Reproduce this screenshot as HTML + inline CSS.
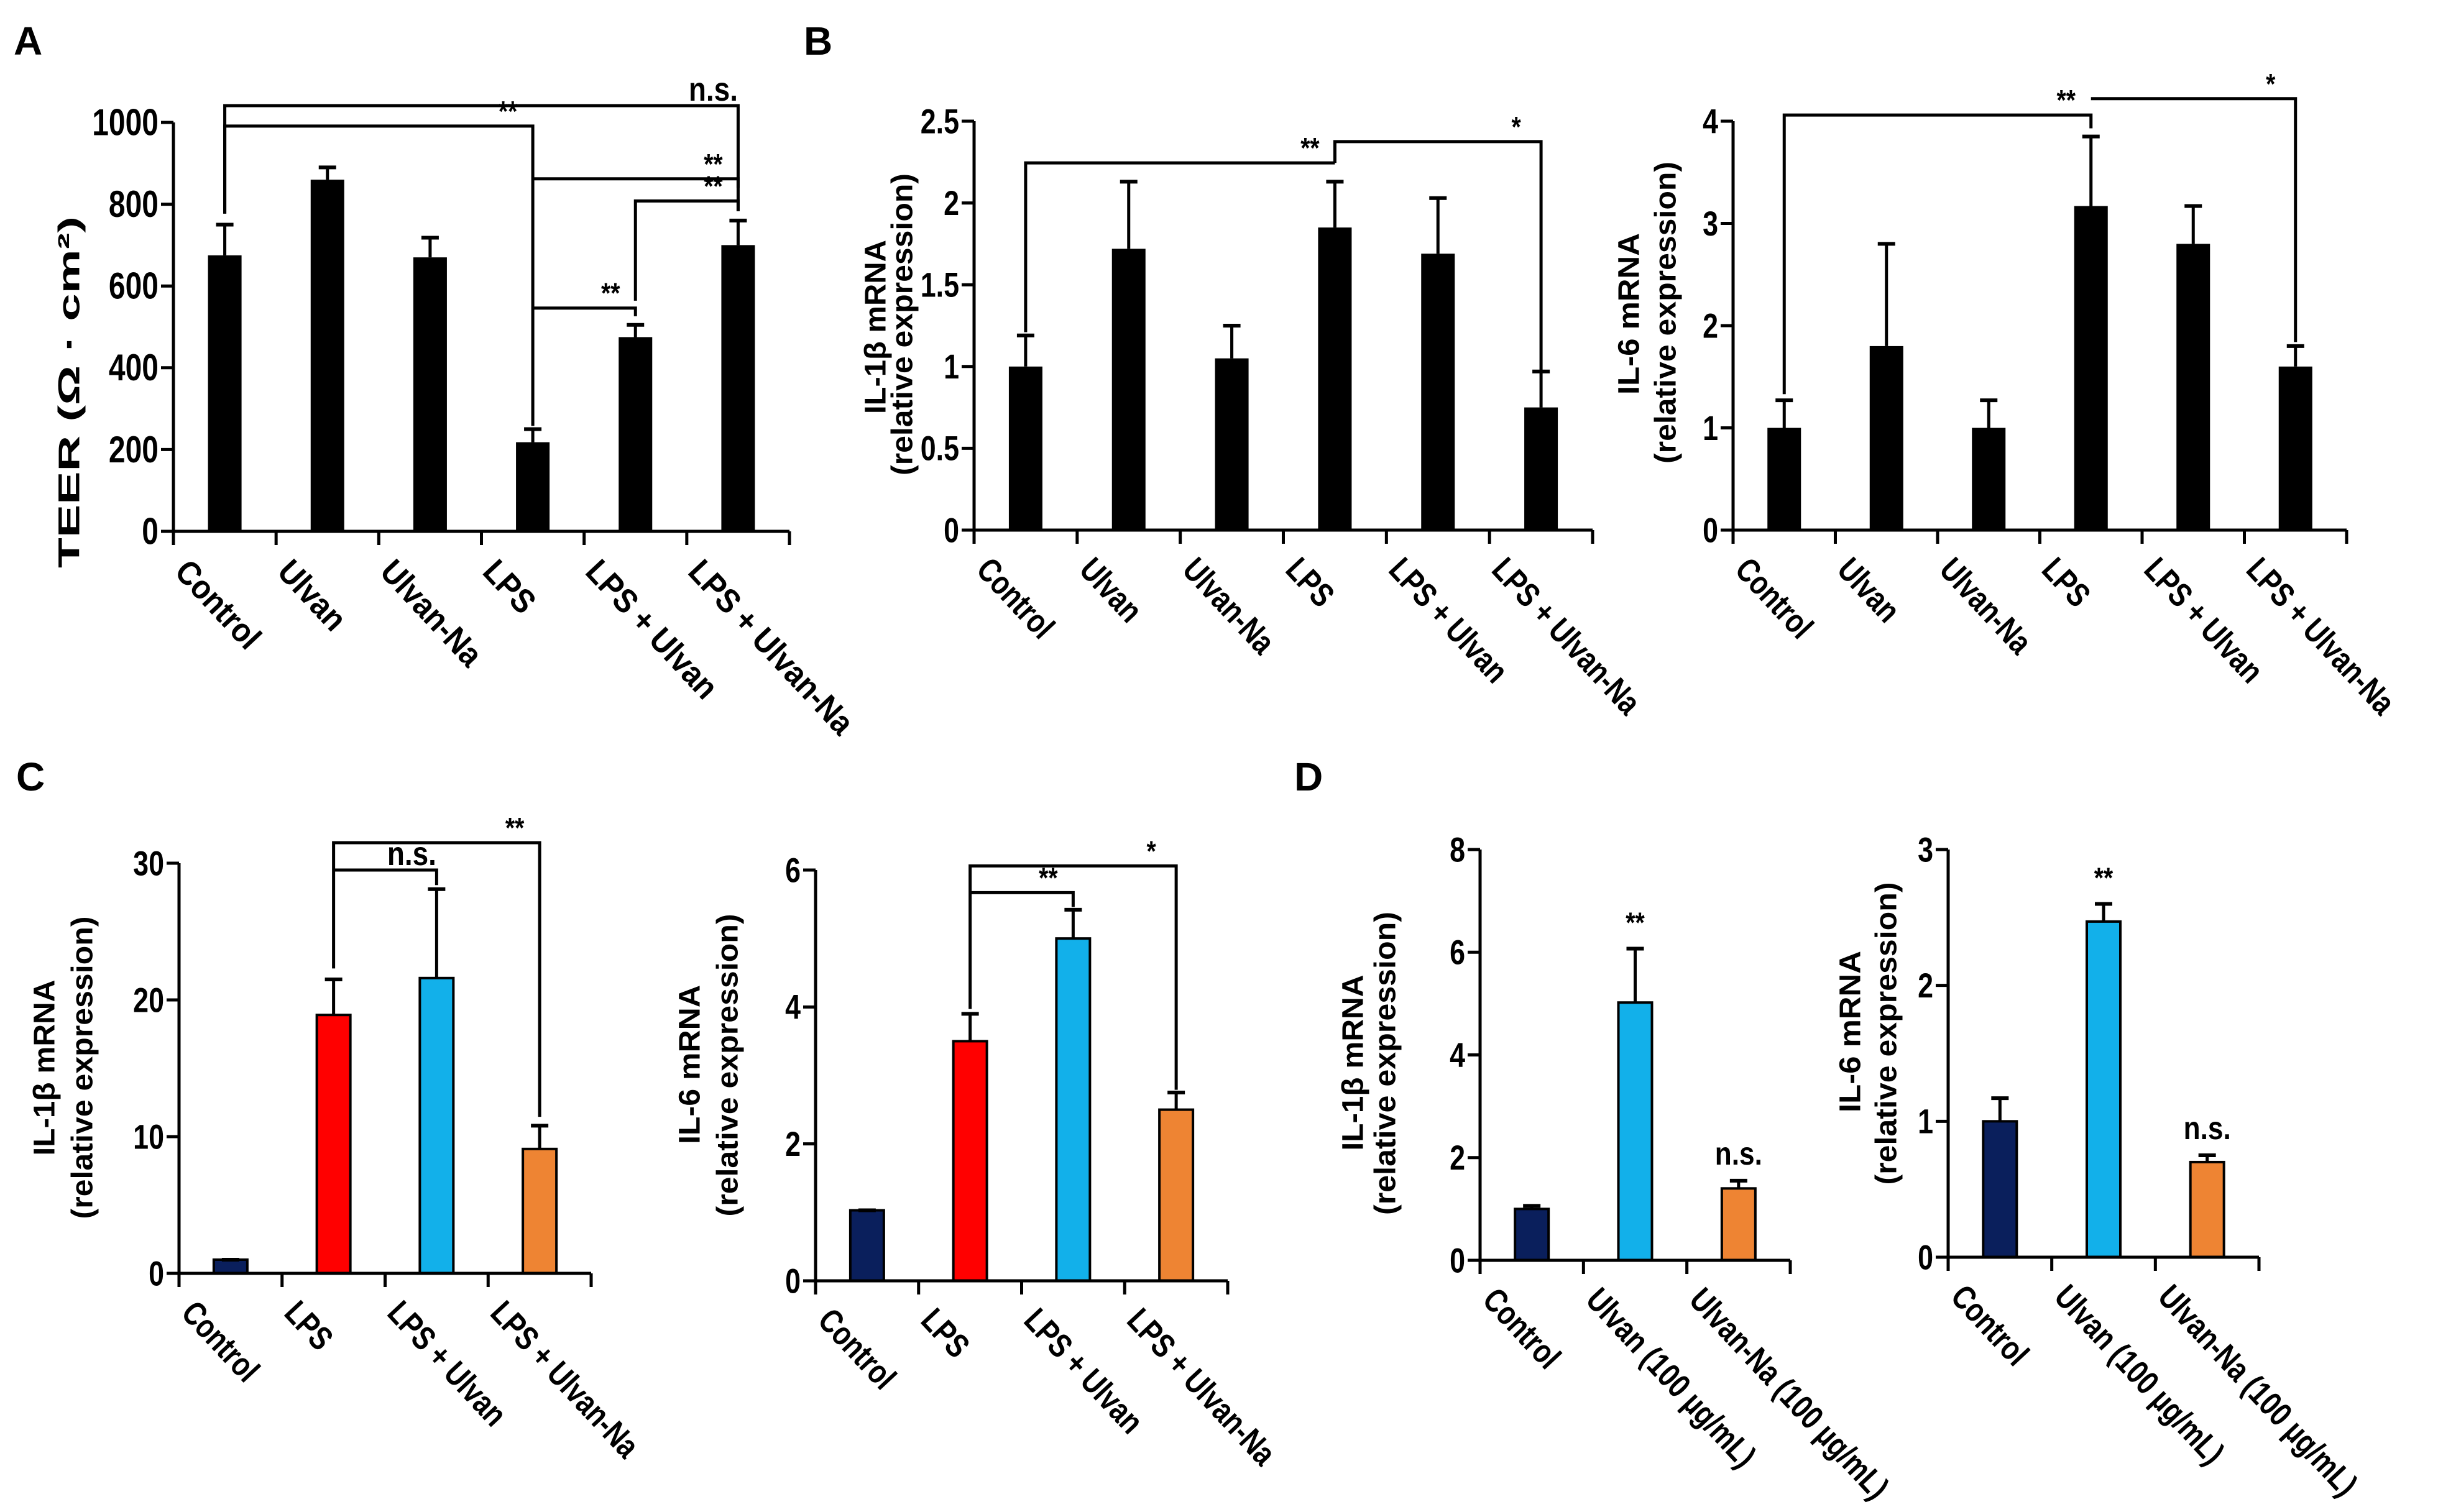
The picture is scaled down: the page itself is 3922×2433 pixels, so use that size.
<!DOCTYPE html>
<html><head><meta charset="utf-8">
<style>
html,body{margin:0;padding:0;background:#fff;}
svg{display:block;}
text{font-family:"Liberation Sans Narrow","Liberation Sans",Arial,sans-serif;font-weight:bold;fill:#000;}
.lab{font-family:"Liberation Sans",Arial,sans-serif;}
</style></head>
<body>
<svg id="fig" width="3922" height="2433" viewBox="0 0 3922 2433" xmlns="http://www.w3.org/2000/svg">
<rect width="3922" height="2433" fill="#fff"/>
<text class="lab" x="22" y="88" font-size="64">A</text>
<text class="lab" x="1293" y="88" font-size="64">B</text>
<text class="lab" x="26" y="1272" font-size="64">C</text>
<text class="lab" x="2082" y="1272" font-size="64">D</text>
</svg>
<script>
// ---- Panel A data ----
const aCats = ["Control","Ulvan","Ulvan-Na","LPS","LPS + Ulvan","LPS + Ulvan-Na"];
const aVals = [675, 860, 670, 218, 475, 700];
const aErrs = [750, 890, 718, 250, 505, 760];
const aTicks = [0, 200, 400, 600, 800, 1000];
const aTickLabels = ["0","200","400","600","800","1000"];
// brackets: [catA, catB, lineValue, dropA, dropB, label]
const aBrackets = [[0,5,1041,777,783,"n.s."],[0,3,991,777,258,"**"],[3,5,862,862,840,"**"],[4,5,808,564,783,"**"],[3,4,546,546,526,"**"]];
// ---- Panel B left ----
const bCats = ["Control","Ulvan","Ulvan-Na","LPS","LPS + Ulvan","LPS + Ulvan-Na"];
const bVals = [1.0, 1.72, 1.05, 1.85, 1.69, 0.75];
const bErrs = [1.19, 2.13, 1.25, 2.13, 2.03, 0.97];
const bTicks = [0, 0.5, 1, 1.5, 2, 2.5];
const bTickLabels = ["0","0.5","1","1.5","2","2.5"];
const bBrackets = [[0,3,2.245,1.21,2.245,"**"],[3,5,2.375,2.245,0.97,"*"]];
// ---- Panel B right ----
const b2Cats = ["Control","Ulvan","Ulvan-Na","LPS","LPS + Ulvan","LPS + Ulvan-Na"];
const b2Vals = [1.0, 1.8, 1.0, 3.17, 2.8, 1.6];
const b2Errs = [1.27, 2.8, 1.27, 3.85, 3.17, 1.8];
const b2Ticks = [0, 1, 2, 3, 4];
const b2TickLabels = ["0","1","2","3","4"];
const b2Brackets = [[0,3,4.06,1.33,3.93,"**"],[3,5,4.22,4.22,1.84,"*"]];
// ---- Panel C left ----
const cCats = ["Control","LPS","LPS + Ulvan","LPS + Ulvan-Na"];
const cVals = [1.0, 18.9, 21.6, 9.1];
const cErrs = [1.0, 21.5, 28.1, 10.8];
const cTicks = [0, 10, 20, 30];
const cTickLabels = ["0","10","20","30"];
const cBrackets = [[1,3,31.5,22.3,11.45,"**"],[1,2,29.5,29.5,28.4,"n.s."]];
// ---- Panel C right ----
const c2Cats = ["Control","LPS","LPS + Ulvan","LPS + Ulvan-Na"];
const c2Vals = [1.03, 3.5, 5.0, 2.5];
const c2Errs = [1.03, 3.9, 5.42, 2.75];
const c2Ticks = [0, 2, 4, 6];
const c2TickLabels = ["0","2","4","6"];
const c2Brackets = [[1,3,6.06,3.97,2.79,"*"],[1,2,5.67,5.67,5.46,"**"]];
// ---- Panel D left ----
const dCats = ["Control","Ulvan (100 µg/mL)","Ulvan-Na (100 µg/mL)"];
const dVals = [1.0, 5.02, 1.4];
const dErrs = [1.06, 6.07, 1.55];
const dMarks = ["", "**", "n.s."];
const dTicks = [0, 2, 4, 6, 8];
const dTickLabels = ["0","2","4","6","8"];
// ---- Panel D right ----
const d2Cats = ["Control","Ulvan (100 µg/mL)","Ulvan-Na (100 µg/mL)"];
const d2Vals = [1.0, 2.47, 0.7];
const d2Errs = [1.17, 2.6, 0.75];
const d2Marks = ["", "**", "n.s."];
const d2Ticks = [0, 1, 2, 3];
const d2TickLabels = ["0","1","2","3"];

const NS = "http://www.w3.org/2000/svg";
const svg = document.getElementById("fig");
const COL_C = ["#0a1f5c","#ff0000","#12b0ea","#ee8433"];
const COL_D = ["#0a1f5c","#12b0ea","#ee8433"];

function mk(tag, attrs, parent){
  const e = document.createElementNS(NS, tag);
  for (const k in attrs) e.setAttribute(k, attrs[k]);
  (parent||svg).appendChild(e);
  return e;
}

function chart(o){
  const g = mk("g", {});
  
  
  const n = o.cats.length;
  const bw = (o.x1 - o.x0) / n;
  const maxV = o.ticks[o.ticks.length-1];
  const ys = v => o.yZero - (v / maxV) * (o.yZero - o.yTop);
  const xs = i => o.x0 + (i + 0.5) * bw;
  const barW = 54;
  const sx = o.sx || 0.8;
  for (let i = 0; i < n; i++){
    const top = ys(o.vals[i]);
    const r = mk("rect", {x: xs(i)-barW/2, y: top, width: barW, height: o.yZero-top,
      fill: o.colors ? o.colors[i] : "#000", stroke: "#000", "stroke-width": o.colors ? 4 : 0}, g);
    
    
    const et = ys(o.errs[i]);
    if (o.errs[i] > o.vals[i]) {
      const e1 = mk("line", {x1: xs(i), x2: xs(i), y1: top, y2: et, stroke: "#000", "stroke-width": 5}, g);
      
      
    }
    const e2 = mk("line", {x1: xs(i)-14, x2: xs(i)+14, y1: et, y2: et, stroke: "#000", "stroke-width": 6}, g);
    
    
    if (o.marks && o.marks[i]) {
      const t = mk("text", {x: 0, y: 0, "font-size": o.marks[i]=="**" ? 46 : 52, "text-anchor": "middle",
        transform: `translate(${xs(i)} ${et - 26}) scale(0.85 1)`}, g);
      t.textContent = o.marks[i];
      
      
    }
    const lx = xs(i) - 54, ly = o.yZero + 40;
    const ct = mk("text", {x: 0, y: 0, "font-size": 54, transform: `translate(${lx} ${ly}) rotate(47) scale(${sx} 1)`, "dominant-baseline": "hanging"}, g);
    ct.textContent = o.cats[i];
    
    
  }
  const ya = mk("line", {x1: o.x0, x2: o.x0, y1: o.yZero, y2: o.yTop, stroke: "#000", "stroke-width": 5}, g);
  
  
  const xa = mk("line", {x1: o.x0-2, x2: o.x1, y1: o.yZero, y2: o.yZero, stroke: "#000", "stroke-width": 5}, g);
  
  
  for (let i = 0; i <= n; i++){
    const xt = o.x0 + i*bw;
    const tk = mk("line", {x1: xt, x2: xt, y1: o.yZero, y2: o.yZero+22, stroke: "#000", "stroke-width": 5}, g);
    
    
  }
  for (let j = 0; j < o.ticks.length; j++){
    const yy = ys(o.ticks[j]);
    const tk = mk("line", {x1: o.x0-20, x2: o.x0, y1: yy, y2: yy, stroke: "#000", "stroke-width": 5}, g);
    
    
    const t = mk("text", {x: 0, y: 0, "font-size": o.tfs || 56, "text-anchor": "end", "dominant-baseline": "central",
      transform: `translate(${o.x0-24} ${yy}) scale(0.8 1)`}, g);
    t.textContent = o.tickLabels[j];
    
    
  }
  (o.brackets || []).forEach(b => {
    const xa_ = xs(b[0]), xb_ = xs(b[1]), yl = ys(b[2]);
    const p = mk("path", {d: `M${xa_},${ys(b[3])} L${xa_},${yl} L${xb_},${yl} L${xb_},${ys(b[4])}`, fill: "none", stroke: "#000", "stroke-width": 5}, g);
    
    
    const t = mk("text", {x: 0, y: 0, "font-size": b[5]=="n.s." ? 54 : 46, "text-anchor": "middle",
      transform: `translate(${xb_-40} ${yl-8}) scale(0.85 1)`}, g);
    t.textContent = b[5];
    
    
  });
  o.ylab.forEach(l => {
    const t = mk("text", {x: 0, y: 0, "font-size": 48, "text-anchor": "middle", "dominant-baseline": "central",
      class: "lab", transform: `translate(${l.x} ${l.c}) rotate(-90)`, textLength: l.len, lengthAdjust: "spacingAndGlyphs"}, g);
    t.textContent = l.t;
    
    
  });
}

chart({name:"chart-a-teer", sx:0.9, x0:279, x1:1270, yZero:855, yTop:197, cats:aCats, vals:aVals, errs:aErrs, ticks:aTicks, tickLabels:aTickLabels, brackets:aBrackets, tfs:60,
  ylab:[{t:"TEER (Ω · cm²)", x:112, c:631, len:566}]});
chart({name:"chart-b-il1b", x0:1567, x1:2562, yZero:853, yTop:195, cats:bCats, vals:bVals, errs:bErrs, ticks:bTicks, tickLabels:bTickLabels, brackets:bBrackets,
  ylab:[{t:"IL-1β mRNA", x:1409, c:526, len:280},{t:"(relative expression)", x:1452, c:522, len:486}]});
chart({name:"chart-b-il6", x0:2788, x1:3775, yZero:853, yTop:195, cats:b2Cats, vals:b2Vals, errs:b2Errs, ticks:b2Ticks, tickLabels:b2TickLabels, brackets:b2Brackets,
  ylab:[{t:"IL-6 mRNA", x:2621, c:505, len:260},{t:"(relative expression)", x:2680, c:503, len:486}]});
chart({name:"chart-c-il1b", colors:COL_C, x0:288, x1:951, yZero:2049, yTop:1389, cats:cCats, vals:cVals, errs:cErrs, ticks:cTicks, tickLabels:cTickLabels, brackets:cBrackets,
  ylab:[{t:"IL-1β mRNA", x:72, c:1718, len:283},{t:"(relative expression)", x:133, c:1718, len:487}]});
chart({name:"chart-c-il6", colors:COL_C, x0:1312, x1:1975, yZero:2061, yTop:1400, cats:c2Cats, vals:c2Vals, errs:c2Errs, ticks:c2Ticks, tickLabels:c2TickLabels, brackets:c2Brackets,
  ylab:[{t:"IL-6 mRNA", x:1110, c:1713, len:256},{t:"(relative expression)", x:1171, c:1714, len:487}]});
chart({name:"chart-d-il1b", colors:COL_D, x0:2381, x1:2880, yZero:2028, yTop:1367, cats:dCats, vals:dVals, errs:dErrs, marks:dMarks, ticks:dTicks, tickLabels:dTickLabels,
  ylab:[{t:"IL-1β mRNA", x:2177, c:1710, len:283},{t:"(relative expression)", x:2229, c:1711, len:488}]});
chart({name:"chart-d-il6", colors:COL_D, x0:3134, x1:3634, yZero:2023, yTop:1367, cats:d2Cats, vals:d2Vals, errs:d2Errs, marks:d2Marks, ticks:d2Ticks, tickLabels:d2TickLabels,
  ylab:[{t:"IL-6 mRNA", x:2977, c:1660, len:260},{t:"(relative expression)", x:3035, c:1663, len:487}]});
</script>
</body></html>
